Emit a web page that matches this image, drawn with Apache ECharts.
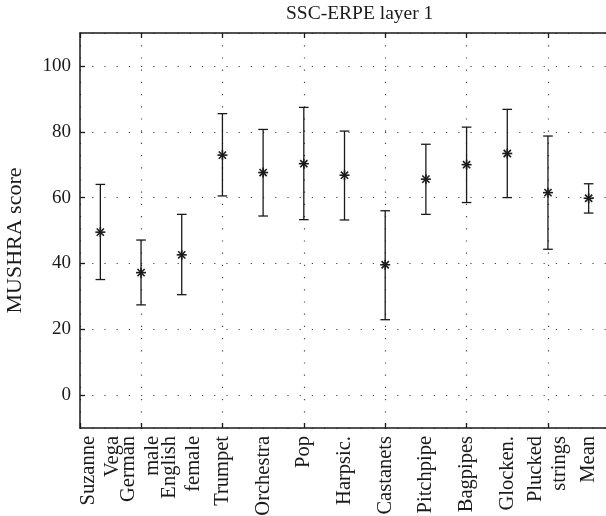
<!DOCTYPE html>
<html>
<head>
<meta charset="utf-8">
<script src="https://cdn.jsdelivr.net/npm/echarts@6/dist/echarts.min.js"></script>
<style>
  html, body { margin: 0; padding: 0; background: #fff; }
  #chart { width: 606px; height: 516px; }
</style>
</head>
<body>
<div id="chart"></div>
<script>
// SSC-ERPE layer 1 — MUSHRA 分数(均值 + 置信区间)
var categories = ['Suzanne\nVega', 'German\nmale', 'English\nfemale', 'Trumpet', 'Orchestra',
  'Pop', 'Harpsic.', 'Castanets', 'Pitchpipe', 'Bagpipes', 'Glocken.', 'Plucked\nstrings', 'Mean'];
var means = [49.5, 37.2, 42.6, 72.9, 67.6, 70.3, 66.8, 39.6, 65.6, 70.0, 73.4, 61.5, 59.8];
var upper = [64.0, 47.1, 54.9, 85.5, 80.7, 87.4, 80.2, 56.0, 76.2, 81.4, 86.8, 78.7, 64.2];
var lower = [35.1, 27.4, 30.5, 60.5, 54.4, 53.3, 53.2, 22.9, 54.9, 58.5, 60.0, 44.3, 55.3];

var FONT = 'Liberation Serif';
var INK = '#1a1a1a';

var rows = means.map(function (m, i) { return [i + 1, m, lower[i], upper[i]]; });

function renderBar(params, api) {
  var x = api.value(0);
  var pm = api.coord([x, api.value(1)]);
  var plo = api.coord([x, api.value(2)]);
  var phi = api.coord([x, api.value(3)]);
  var cap = 4.8, r = 5, d = r * 0.72;
  var st = { stroke: INK, lineWidth: 1.3 };
  var sst = { stroke: INK, lineWidth: 1.6 };
  function ln(x1, y1, x2, y2, s) {
    return { type: 'line', shape: { x1: x1, y1: y1, x2: x2, y2: y2 }, style: s || st };
  }
  return {
    type: 'group',
    children: [
      ln(plo[0], plo[1], phi[0], phi[1]),
      ln(plo[0] - cap, plo[1], plo[0] + cap, plo[1]),
      ln(phi[0] - cap, phi[1], phi[0] + cap, phi[1]),
      // 星号标记
      ln(pm[0], pm[1] - r, pm[0], pm[1] + r, sst),
      ln(pm[0] - r, pm[1], pm[0] + r, pm[1], sst),
      ln(pm[0] - d, pm[1] - d, pm[0] + d, pm[1] + d, sst),
      ln(pm[0] - d, pm[1] + d, pm[0] + d, pm[1] - d, sst)
    ]
  };
}

var gridDots = { color: '#444', width: 1.2, type: [1.2, 11] };
var frame = { onZero: false, lineStyle: { color: INK, width: 1.5 } };
var innerTick = { inside: true, length: 5, lineStyle: { color: INK, width: 1.3 } };

var chart = echarts.init(document.getElementById('chart'));
chart.setOption({
  animation: false,
  title: {
    text: 'SSC-ERPE layer 1',
    left: 286, top: 4, padding: 0,
    textStyle: { fontFamily: FONT, fontSize: 19.5, fontWeight: 'normal', color: INK }
  },
  // 标签超出画布底部(原图即被裁切),不让网格收缩
  grid: { left: 80, top: 33, right: -3, bottom: 88, outerBoundsMode: 'none' },
  xAxis: [{
    // 数据轴:刻度/网格在 2,4,...,12
    type: 'value', position: 'bottom',
    min: 0.5, max: 13.5, splitNumber: 6, minInterval: 2, maxInterval: 2,
    axisLine: frame, axisTick: innerTick,
    splitLine: { show: true, lineStyle: gridDots },
    axisLabel: { show: false }
  }, {
    type: 'value', position: 'top',
    min: 0.5, max: 13.5, splitNumber: 6, minInterval: 2, maxInterval: 2,
    axisLine: frame, axisTick: innerTick,
    splitLine: { show: false },
    axisLabel: { show: false }
  }, {
    // 类目名称(旋转 90°)
    type: 'category', position: 'bottom', data: categories, boundaryGap: true,
    axisLine: { show: false }, axisTick: { show: false }, splitLine: { show: false },
    axisLabel: {
      interval: 0, rotate: 90, margin: 8,
      fontFamily: FONT, fontSize: 20.5, lineHeight: 24, color: INK
    }
  }],
  yAxis: {
    type: 'value',
    min: -10, max: 110, minInterval: 20, maxInterval: 20,
    name: 'MUSHRA score', nameLocation: 'middle', nameRotate: 90, nameGap: 54,
    nameTextStyle: { fontFamily: FONT, fontSize: 22, color: INK, padding: [0, 20, 0, 0] },
    axisLine: { show: true, onZero: false, lineStyle: { color: INK, width: 1.5 } },
    axisTick: { show: true, inside: true, length: 5, lineStyle: { color: INK, width: 1.3 } },
    splitLine: { show: true, lineStyle: gridDots },
    axisLabel: {
      showMinLabel: false, showMaxLabel: false, margin: 9,
      fontFamily: FONT, fontSize: 19, color: INK
    }
  },
  series: [{
    type: 'custom',
    xAxisIndex: 0,
    renderItem: renderBar,
    encode: { x: 0, y: [1, 2, 3] },
    data: rows,
    clip: false,
    z: 5
  }]
});
</script>
</body>
</html>
